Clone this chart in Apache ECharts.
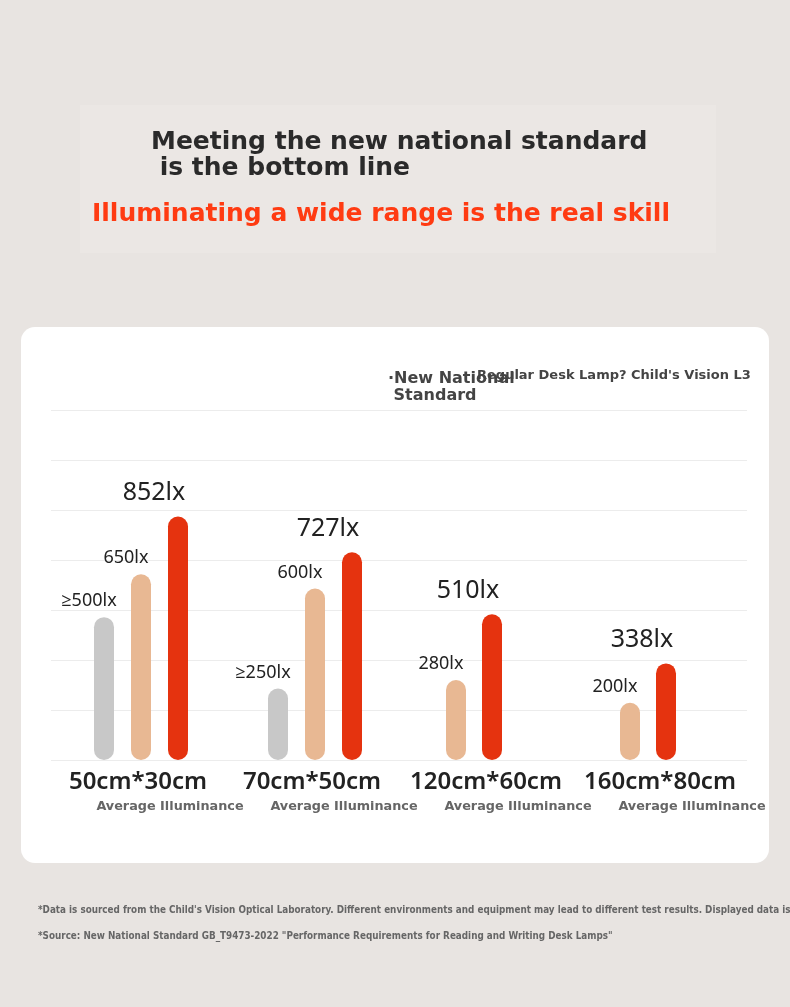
<!DOCTYPE html>
<html>
<head>
<meta charset="utf-8">
<script src="https://cdn.jsdelivr.net/npm/echarts@6/dist/echarts.min.js"></script>
<style>
html,body{margin:0;padding:0;background:#e8e4e1;}
#chart{width:790px;height:1007px;}
</style>
</head>
<body>
<div id="chart"></div>
<script>
// ---- data ----
var categories = ['50cm*30cm', '70cm*50cm', '120cm*60cm', '160cm*80cm'];
var subLabel = 'Average Illuminance';
var standardValues = [500, 250, null, null];   // New National Standard (minimum, shown as ≥)
var regularValues = [650, 600, 280, 200];      // Regular Desk Lamp
var l3Values = [852, 727, 510, 338];           // Child's Vision L3
var unit = 'lx';
var titleLine1 = 'Meeting the new national standard\n is the bottom line';
var titleLine2 = 'Illuminating a wide range is the real skill';
var legendA = '\u00B7New National\n Standard';
var legendB = "Regular Desk Lamp? Child's Vision L3";
var note1 = "*Data is sourced from the Child's Vision Optical Laboratory. Different environments and equipment may lead to different test results. Displayed data is";
var note2 = '*Source: New National Standard GB_T9473-2022 "Performance Requirements for Reading and Writing Desk Lamps"';

// ---- styles ----
var cGray = '#c8c8c8', cPeach = '#e8b893', cRed = '#e5330f';
var numFont = '"Noto Sans", "Open Sans", sans-serif';
var heavyFont = '"DejaVu Sans", sans-serif';
var yMax = 1225, yInt = 175;

var chart = echarts.init(document.getElementById('chart'), null, {renderer: 'canvas'});

function yAx(idx, showSplit) {
  return {
    type: 'value', gridIndex: idx, min: 0, max: yMax, interval: yInt,
    axisLabel: {show: false}, axisLine: {show: false}, axisTick: {show: false},
    splitLine: {show: showSplit, lineStyle: {color: '#ececec', width: 1}}
  };
}
function hiddenX(idx, cats) {
  return {
    type: 'category', gridIndex: idx, data: cats,
    axisLine: {show: false}, axisTick: {show: false}, axisLabel: {show: false}
  };
}
function barSeries(name, xi, yi, data, color, labelFmt, lblStyle, gap) {
  return {
    name: name, type: 'bar', xAxisIndex: xi, yAxisIndex: yi,
    data: data, barWidth: 20, barGap: gap,
    itemStyle: {color: color, borderRadius: 10},
    label: {
      show: true, position: 'top',
      distance: lblStyle.distance, offset: lblStyle.offset,
      fontFamily: numFont, fontSize: lblStyle.size, color: '#222',
      formatter: labelFmt
    },
    silent: true, animation: false
  };
}
var smallLbl = {size: 18, distance: 7, offset: [-15, 0]};
var bigLbl = {size: 25, distance: 11, offset: [-24, 0]};

var catsA = categories.slice(0, 2), catsB = categories.slice(2);

var option = {
  backgroundColor: '#e8e4e1',
  animation: false,
  graphic: {
    elements: [
      {type: 'rect', z: -20, shape: {x: 80, y: 105, width: 636, height: 148},
       style: {fill: 'rgba(240,238,236,0.35)'}},
      {type: 'rect', z: -10, shape: {x: 21, y: 327, width: 748, height: 536, r: 14},
       style: {fill: '#ffffff'}}
    ]
  },
  title: [
    {text: titleLine1, left: 151, top: 129, padding: 0,
     textStyle: {fontFamily: heavyFont, fontWeight: 'bold', fontSize: 25, lineHeight: 26, color: '#2a2a2a'}},
    {text: titleLine2, left: 92, top: 200, padding: 0,
     textStyle: {fontFamily: heavyFont, fontWeight: 'bold', fontSize: 25, lineHeight: 28, color: '#ff3b12'}},
    {text: legendA, left: 388, top: 370, padding: 0,
     textStyle: {fontFamily: heavyFont, fontWeight: 'bold', fontSize: 16, lineHeight: 17, color: '#444'}},
    {text: legendB, left: 477, top: 368, padding: 0,
     textStyle: {fontFamily: heavyFont, fontWeight: 'bold', fontSize: 13, lineHeight: 16, color: '#444'}},
    {text: note1, left: 38, top: 904, padding: 0,
     textStyle: {fontFamily: '"Liberation Sans Narrow", "DejaVu Sans Condensed", sans-serif', fontWeight: 'bold', fontSize: 9.8, lineHeight: 12, color: '#666'}},
    {text: note2, left: 38, top: 930, padding: 0,
     textStyle: {fontFamily: '"Liberation Sans Narrow", "DejaVu Sans Condensed", sans-serif', fontWeight: 'bold', fontSize: 9.8, lineHeight: 12, color: '#666'}}
  ],
  grid: [
    {left: 51, width: 696, top: 410, bottom: 247, containLabel: false},
    {left: 54, width: 348, top: 410, bottom: 247, containLabel: false},
    {left: 387, width: 348, top: 410, bottom: 247, containLabel: false}
  ],
  xAxis: [
    {
      type: 'category', gridIndex: 0, data: categories,
      axisLine: {show: false}, axisTick: {show: false},
      axisLabel: {
        margin: 9, interval: 0,
        formatter: function (v) { return '{a|' + v + '}\n{b|' + subLabel + '}'; },
        rich: {
          a: {fontFamily: numFont, fontWeight: 600, fontSize: 24, lineHeight: 26, color: '#222'},
          b: {fontFamily: heavyFont, fontWeight: 'bold', fontSize: 12.8, lineHeight: 24, color: '#666', padding: [0, 0, 0, 64]}
        }
      }
    },
    hiddenX(1, catsA),
    hiddenX(2, catsB)
  ],
  yAxis: [yAx(0, true), yAx(1, false), yAx(2, false)],
  series: [
    barSeries('New National Standard', 1, 1, standardValues.slice(0, 2), cGray,
      function (p) { return '\u2265' + p.value + unit; }, smallLbl, '85%'),
    barSeries('Regular Desk Lamp', 1, 1, regularValues.slice(0, 2), cPeach,
      function (p) { return p.value + unit; }, smallLbl, '85%'),
    barSeries("Child's Vision L3", 1, 1, l3Values.slice(0, 2), cRed,
      function (p) { return p.value + unit; }, bigLbl, '85%'),
    barSeries('Regular Desk Lamp', 2, 2, regularValues.slice(2), cPeach,
      function (p) { return p.value + unit; }, smallLbl, '80%'),
    barSeries("Child's Vision L3", 2, 2, l3Values.slice(2), cRed,
      function (p) { return p.value + unit; }, bigLbl, '80%')
  ]
};
chart.setOption(option);
</script>
</body>
</html>
